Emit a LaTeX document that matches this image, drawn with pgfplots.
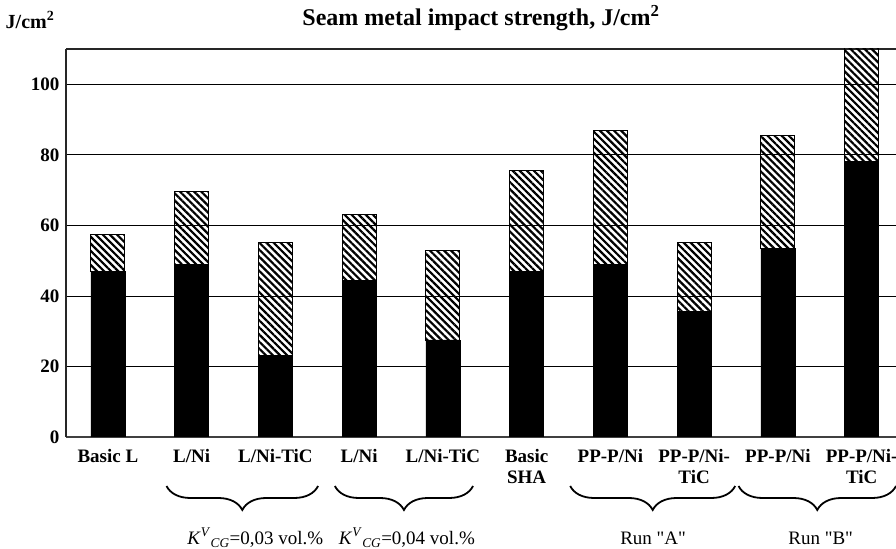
\documentclass[border=0pt]{standalone}
\usepackage{pgfplots}
\pgfplotsset{compat=1.18}
\usepackage{fontspec}
\setmainfont{Liberation Serif}
\newfontfamily\plainserif{Liberation Serif}[Ligatures=TeXOff]
\usetikzlibrary{patterns.meta,decorations.pathreplacing,calc}

\begin{document}
\fontsize{19bp}{21bp}\selectfont
\begin{tikzpicture}
\begin{axis}[name=ax, scale only axis, width=830bp, height=388bp,
  xmin=-0.5, xmax=9.41, ymin=0, ymax=110,
  ybar stacked, bar width=34bp,
  ytick={0,20,...,100},
  ymajorgrids, grid style={black, line width=0.8pt},
  major tick length=0pt,
  axis x line*=bottom, axis y line*=left,
  x axis line style={line width=2pt, black!75},
  y axis line style={line width=2pt, black!85},
  extra y ticks={110}, extra y tick labels={},
  extra y tick style={grid style={line width=2pt, black!85}},
  xtick={0,...,9},
  xticklabels={Basic L, L/Ni, L/Ni-TiC, L/Ni, L/Ni-TiC, Basic\\SHA, PP-P/Ni, PP-P/Ni-\\TiC, PP-P/Ni, PP-P/Ni-\\TiC},
  xticklabel style={align=center, font=\bfseries\fontsize{19bp}{21bp}\selectfont, yshift=-6bp},
  yticklabel style={font=\bfseries\fontsize{19bp}{21bp}\selectfont},
  /pgf/number format/assume math mode=true,
]
\addplot[fill=black, draw=black] coordinates {(0,47) (1,49) (2,23) (3,44.5) (4,27.5) (5,47) (6,49) (7,35.5) (8,53.5) (9,78)};
\addplot[draw=black, line width=1pt, pattern={Lines[angle=-45,distance=5bp,line width=2.2bp]}] coordinates {(0,10.5) (1,20.5) (2,32) (3,18.5) (4,25.5) (5,28.5) (6,38) (7,19.5) (8,32) (9,33)};
\coordinate (b1s) at (axis cs:0.70,0);
\coordinate (b1e) at (axis cs:2.51,0);
\coordinate (b2s) at (axis cs:2.71,0);
\coordinate (b2e) at (axis cs:4.36,0);
\coordinate (b3s) at (axis cs:5.52,0);
\coordinate (b3e) at (axis cs:7.49,0);
\coordinate (b4s) at (axis cs:7.53,0);
\coordinate (b4e) at (axis cs:9.41,0);
\coordinate (l1) at (axis cs:1.76,0);
\coordinate (l2) at (axis cs:3.57,0);
\coordinate (l3) at (axis cs:6.51,0);
\coordinate (l4) at (axis cs:8.51,0);
\end{axis}
\foreach \s/\e in {b1s/b1e,b2s/b2e,b3s/b3e,b4s/b4e}{
  \draw[line width=1.8pt, decorate, decoration={brace, mirror, amplitude=24bp}]
    ($(\s)+(0,-49bp)$) -- ($(\e)+(0,-49bp)$);
}
\node at ($(l1)+(0,-101bp)$) {\textit{K}\textsuperscript{\textit{V}}\textsubscript{\textit{CG}}=0,03 vol.\%};
\node at ($(l2)+(0,-101bp)$) {\textit{K}\textsuperscript{\textit{V}}\textsubscript{\textit{CG}}=0,04 vol.\%};
\node at ($(l3)+(0,-101bp)$) {\plainserif Run "A"};
\node at ($(l4)+(0,-101bp)$) {\plainserif Run "B"};
\node[font=\bfseries\fontsize{24bp}{26bp}\selectfont] at ($(ax.north)+(0,31bp)$) {Seam metal impact strength, J/cm\textsuperscript{2}};
\node[font=\bfseries\fontsize{20bp}{22bp}\selectfont] at ($(ax.north west)+(-36bp,29bp)$) {J/cm\textsuperscript{2}};
\pgfresetboundingbox
\path[use as bounding box] ($(ax.south west)+(-66bp,-112bp)$) rectangle ($(ax.north east)+(0,49bp)$);
\end{tikzpicture}
\end{document}
